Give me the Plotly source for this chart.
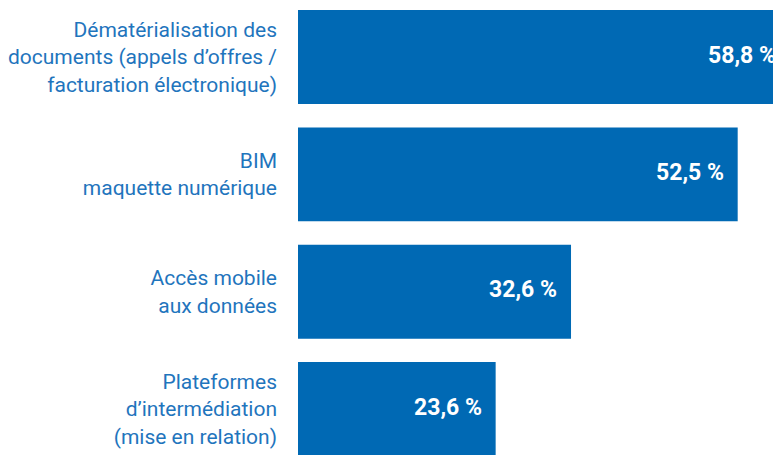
import plotly.graph_objects as go

categories = [
    "Dématérialisation des<br>documents (appels d’offres /<br>facturation électronique)",
    "BIM<br>maquette numérique",
    "Accès mobile<br>aux données",
    "Plateformes<br>d’intermédiation<br>(mise en relation)",
]
values = [58.8, 52.5, 32.6, 23.6]
value_labels = ["58,8 %", "52,5 %", "32,6 %", "23,6 %"]

BAR = "#0069b4"
LABEL = "#1f75bd"
FONT = "Roboto, Arial, sans-serif"

fig = go.Figure()
fig.add_trace(go.Bar(
    x=values, y=categories, orientation="h",
    marker=dict(color=BAR, line=dict(width=0)),
    width=0.8, hoverinfo="skip",
))

for v, c, t in zip(values, categories, value_labels):
    fig.add_annotation(
        x=v, y=c, xref="x", yref="y",
        text=t, showarrow=False,
        xanchor="right", yanchor="middle", xshift=-12, yshift=2,
        font=dict(family=FONT, size=23, color="white", weight="bold"),
    )

fig.update_layout(
    width=793, height=455,
    margin=dict(l=290, r=0, t=0, b=0),
    paper_bgcolor="white", plot_bgcolor="white",
    showlegend=False,
    xaxis=dict(range=[0, 60.06], visible=False, fixedrange=True),
    yaxis=dict(
        type="category",
        categoryorder="array", categoryarray=categories,
        range=[3.460, -0.418],
        showgrid=False, zeroline=False, showline=False, ticks="",
        ticklabelstandoff=20, automargin=False,
        tickfont=dict(family=FONT, size=21, color=LABEL),
        fixedrange=True,
    ),
)

fig.write_html("out.html")
